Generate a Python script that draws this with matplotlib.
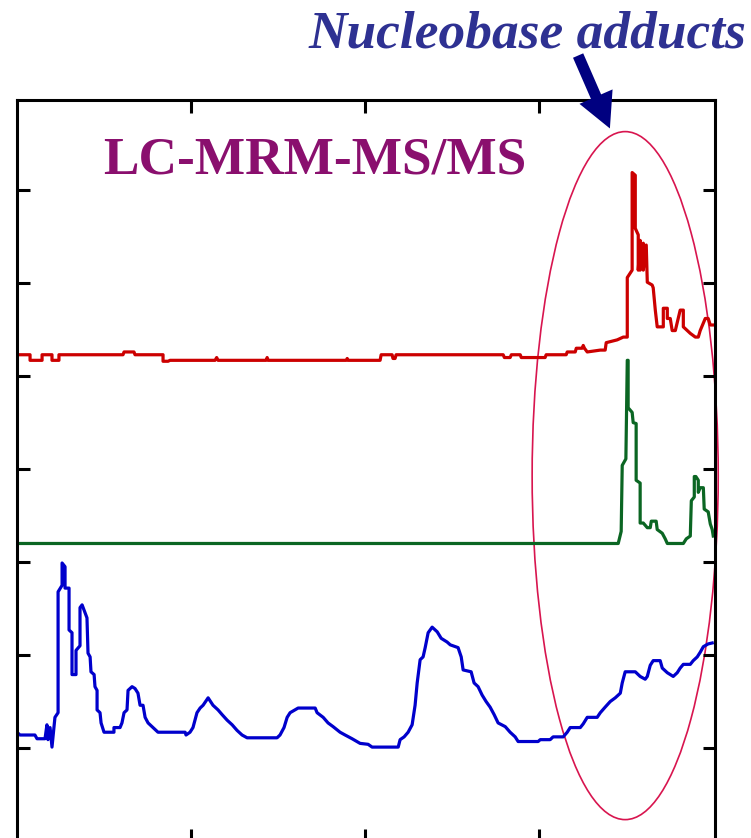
import matplotlib
matplotlib.use("Agg")
import matplotlib.pyplot as plt
from matplotlib.patches import Ellipse, FancyArrowPatch

# retention time (min) / stacked intensity (a.u.)
red_t = [0, 0.75, 0.75, 1.44, 1.44, 2.01, 2.01, 2.41, 2.41, 6.09, 6.15, 6.72, 6.78,
         8.39, 8.39, 8.68, 8.79, 11.38, 11.47, 11.55, 14.31, 14.37, 14.43, 18.91,
         18.97, 19.03, 20.86, 20.92, 21.55, 21.60, 21.72, 21.78, 27.93, 28.0, 28.33,
         28.4, 28.91, 28.97, 30.34, 30.4, 31.55, 31.61, 32.07, 32.13, 32.47, 32.53,
         32.6, 32.76, 33.51, 33.79, 33.85, 34.48, 34.83, 35.06, 35.06, 35.34, 35.34,
         35.52, 35.52, 35.69, 35.69, 35.80, 35.80, 35.98, 35.98, 36.15, 36.21, 36.49,
         36.55, 36.67, 36.78, 37.13, 37.13, 37.36, 37.36, 37.53, 37.64, 37.82, 38.10,
         38.28, 38.28, 38.68, 38.97, 39.14, 39.25, 39.54, 39.71, 39.83, 40.0]
red_y = [5.23, 5.23, 5.17, 5.17, 5.23, 5.23, 5.17, 5.17, 5.23, 5.23, 5.26, 5.26, 5.23,
         5.23, 5.16, 5.16, 5.17, 5.17, 5.20, 5.17, 5.17, 5.20, 5.17, 5.17,
         5.19, 5.17, 5.17, 5.23, 5.23, 5.19, 5.19, 5.23, 5.23, 5.20, 5.20,
         5.23, 5.23, 5.20, 5.20, 5.23, 5.23, 5.26, 5.26, 5.30, 5.30, 5.33,
         5.30, 5.26, 5.28, 5.28, 5.36, 5.39, 5.42, 5.42, 6.06, 6.14, 7.19,
         7.16, 6.59, 6.52, 6.14, 6.46, 6.14, 6.43, 6.14, 6.41, 6.01, 5.98,
         5.95, 5.71, 5.53, 5.53, 5.73, 5.73, 5.62, 5.62, 5.49, 5.49, 5.71,
         5.71, 5.53, 5.46, 5.42, 5.42, 5.49, 5.62, 5.62, 5.55, 5.55]

green_t = [0, 34.54, 34.71, 34.77, 34.98, 35.06, 35.11, 35.11, 35.34, 35.40, 35.57,
           35.57, 35.80, 35.80, 35.98, 36.21, 36.38, 36.44, 36.72, 36.78, 37.07, 37.24,
           37.36, 38.28, 38.45, 38.68, 38.74, 38.91, 38.91, 39.0, 39.14, 39.14, 39.25,
           39.43, 39.48, 39.71, 39.83, 39.94, 40.0]
green_y = [3.20, 3.20, 3.33, 4.04, 4.11, 5.17, 5.17, 4.66, 4.61, 4.50, 4.49,
           3.88, 3.85, 3.42, 3.42, 3.37, 3.37, 3.44, 3.44, 3.35, 3.31, 3.25,
           3.20, 3.20, 3.25, 3.28, 3.66, 3.70, 3.92, 3.92, 3.88, 3.75, 3.80,
           3.80, 3.57, 3.54, 3.41, 3.35, 3.28]

blue_t = [0, 0.17, 1.03, 1.15, 1.61, 1.72, 1.78, 1.90, 2.01, 2.18, 2.36, 2.36, 2.59,
          2.59, 2.76, 2.76, 2.99, 2.99, 3.16, 3.16, 3.39, 3.39, 3.62, 3.62, 3.74, 4.02,
          4.08, 4.20, 4.25, 4.43, 4.48, 4.60, 4.60, 4.77, 4.83, 5.00, 5.57, 5.57, 5.92,
          6.03, 6.15, 6.32, 6.38, 6.61, 6.78, 6.95, 7.07, 7.24, 7.36, 7.53, 7.76, 8.10,
          9.66, 9.71, 9.94, 10.11, 10.34, 10.52, 10.69, 10.98, 11.26, 11.55, 11.78,
          12.07, 12.36, 12.64, 12.93, 13.22, 14.94, 15.11, 15.34, 15.52, 15.69, 16.15,
          17.13, 17.24, 17.59, 17.87, 18.16, 18.56, 18.85, 19.25, 19.71, 20.17, 20.40,
          21.90, 22.01, 22.24, 22.47, 22.70, 22.87, 22.99, 23.16, 23.33, 23.45, 23.62,
          23.85, 24.14, 24.37, 24.71, 24.89, 25.34, 25.52, 25.63, 26.09, 26.26, 26.49,
          26.72, 26.95, 27.18, 27.41, 27.64, 28.05, 28.33, 28.62, 28.79, 29.94, 30.06,
          30.63, 30.80, 31.38, 31.61, 31.78, 32.36, 32.53, 32.76, 33.33, 33.51, 33.79,
          34.08, 34.37, 34.66, 34.77, 34.94, 35.52, 35.80, 36.09, 36.21, 36.38, 36.55,
          36.95, 37.07, 37.36, 37.70, 37.93, 38.10, 38.28, 38.68, 38.85, 39.08, 39.25,
          39.43, 39.71, 39.94]
blue_y = [1.17, 1.14, 1.14, 1.10, 1.10, 1.25, 1.09, 1.22, 1.01, 1.33, 1.38, 2.68, 2.75,
          2.99, 2.95, 2.72, 2.72, 2.27, 2.24, 1.79, 1.79, 2.05, 2.10, 2.51, 2.54, 2.40,
          2.02, 1.98, 1.82, 1.79, 1.66, 1.62, 1.41, 1.38, 1.27, 1.17, 1.17, 1.22, 1.22,
          1.27, 1.38, 1.41, 1.62, 1.66, 1.64, 1.59, 1.46, 1.46, 1.33, 1.27, 1.23, 1.17,
          1.17, 1.14, 1.17, 1.22, 1.38, 1.43, 1.46, 1.54, 1.46, 1.41, 1.36,
          1.30, 1.25, 1.19, 1.14, 1.11, 1.11, 1.14, 1.22, 1.33, 1.38, 1.43,
          1.43, 1.38, 1.33, 1.27, 1.23, 1.17, 1.14, 1.10, 1.05, 1.04, 1.01,
          1.01, 1.09, 1.12, 1.17, 1.25, 1.46, 1.70, 1.95, 1.98, 2.08, 2.24,
          2.30, 2.25, 2.18, 2.14, 2.11, 2.08, 1.98, 1.84, 1.82, 1.70, 1.66,
          1.57, 1.50, 1.44, 1.36, 1.27, 1.23, 1.17, 1.12, 1.07, 1.07, 1.09,
          1.09, 1.12, 1.12, 1.17, 1.22, 1.22, 1.26, 1.33, 1.33, 1.38, 1.44,
          1.50, 1.54, 1.59, 1.70, 1.82, 1.82, 1.77, 1.74, 1.77, 1.89, 1.94,
          1.94, 1.86, 1.81, 1.77, 1.81, 1.86, 1.90, 1.90, 1.94, 1.98, 2.03,
          2.09, 2.12, 2.13]

x_ticks = [10, 20, 30]
y_ticks = [1, 2, 3, 4, 5, 6, 7]

fig = plt.figure(figsize=(7.51, 8.38), dpi=100)
ax = fig.add_axes([17 / 751, -3 / 838, 698 / 751, 741 / 838])

ax.plot(red_t, red_y, color="#cc0000", lw=2.3, solid_joinstyle="round")
ax.plot(green_t, green_y, color="#0b6623", lw=2.3, solid_joinstyle="round")
ax.plot(blue_t, blue_y, color="#0000cc", lw=2.3, solid_joinstyle="round")

ax.set_xlim(0, 40.1)
ax.set_ylim(0, 7.97)
ax.set_xticks(x_ticks)
ax.set_yticks(y_ticks)
ax.tick_params(direction="in", length=9, width=2.2, top=True, right=True,
               labelbottom=False, labelleft=False)
for sp in ax.spines.values():
    sp.set_linewidth(2.2)

# highlight region
ell = Ellipse((34.94, 3.93), 10.69, 7.40, fill=False, edgecolor="#d8154f",
              lw=1.2, clip_on=False)
ax.add_patch(ell)

serif = ["Liberation Serif", "DejaVu Serif"]
fig.text(103 / 751, 1 - 174 / 838, "LC-MRM-MS/MS", family=serif, weight="bold",
         fontsize=38.3, color="#8a0f6e", ha="left", va="baseline")
fig.text(308 / 751, 1 - 47 / 838, "Nucleobase adducts", family=serif, weight="bold",
         style="italic", fontsize=38.4, color="#2e3192", ha="left", va="baseline")

arrow = FancyArrowPatch((577 / 751, 1 - 53 / 838), (611 / 751, 1 - 131 / 838),
                        transform=fig.transFigure,
                        arrowstyle="simple,head_length=1.25,head_width=1.3,tail_width=0.4",
                        mutation_scale=20, color="#000080", lw=0)
fig.patches.append(arrow)

fig.savefig("out.png", dpi=100)
